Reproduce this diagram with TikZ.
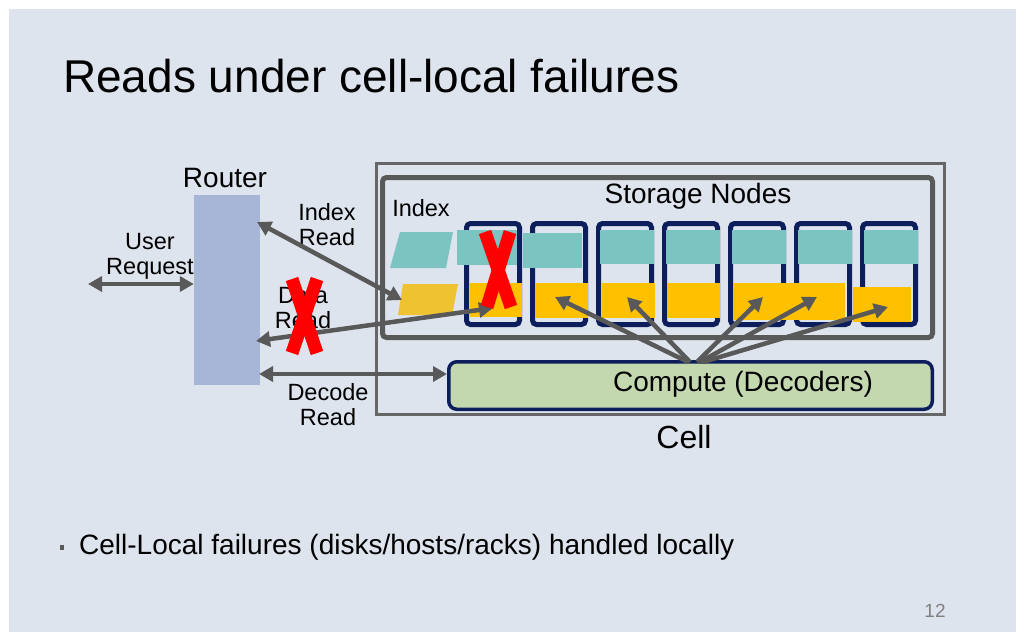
\documentclass[tikz,border=0pt]{standalone}
\usepackage{fontspec}
\setmainfont{Liberation Sans}
\usetikzlibrary{arrows.meta,positioning}
\definecolor{slide}{HTML}{DEE4EE}
\definecolor{arr}{HTML}{595959}
\definecolor{boxgray}{HTML}{666666}
\definecolor{navy}{HTML}{0C1F5C}
\definecolor{idxteal}{HTML}{7CC4C2}
\definecolor{gold}{HTML}{FFC000}
\definecolor{pgold}{HTML}{EFC232}
\definecolor{router}{HTML}{A7B5D6}
\definecolor{comp}{HTML}{C4D8B0}
\begin{document}
\begin{tikzpicture}[x=1pt, y=-1pt, >={Triangle[length=14pt,width=15pt]},
    flow/.style={arr, line width=4.5pt},
    lbl/.style={inner sep=0pt, align=center, font=\fontsize{23.5}{25.5}\selectfont},
    big/.style={inner sep=0pt, font=\fontsize{28}{32}\selectfont},
    disk/.style={draw=navy, line width=5pt, rounded corners=4pt, minimum width=53pt, minimum height=101pt, inner sep=0pt},
    cross/.style={red, line width=13pt}]
    % slide
    \fill[white] (0,0) rectangle (1024,640);
    \fill[slide] (9,9) rectangle (1016,632);
    \node[anchor=base west, inner sep=0pt, font=\fontsize{46}{50}\selectfont] (title) at (63,92) {Reads under cell-local failures};

    % router side
    \node[fill=router, minimum width=66pt, minimum height=190pt, inner sep=0pt] (router) at (227,290) {};
    \node[big, anchor=base] (rtr) at (225,187) {Router};
    \node[lbl, anchor=north] (user) at (150,233) {User\\Request};
    \node[lbl, anchor=north] (ixr) at (327,203) {Index\\Read};
    \node[lbl, anchor=north] (dtr) at (303,287) {Data\\Read};
    \node[lbl, anchor=north] (dcr) at (328,383) {Decode\\Read};

    % cell
    \node[draw=boxgray, line width=3pt, minimum width=568pt, minimum height=251pt, inner sep=0pt] (cell) at (660.5,289) {};
    \node[draw=arr, line width=5pt, rounded corners=4pt, minimum width=550pt, minimum height=160pt, inner sep=0pt] (store) at (657.5,257.5) {};
    \node[big, anchor=base] (stl) at (698,203) {Storage Nodes};
    \node[lbl, anchor=base] (idx) at (421,216) {Index};
    \node[inner sep=0pt, anchor=base, font=\fontsize{32}{36}\selectfont] (celll) at (684,448) {Cell};
    \node[draw=navy, fill=comp, line width=3.5pt, rounded corners=8pt, minimum width=483.5pt, minimum height=47.5pt, inner sep=0pt] (comp) at (690.5,385.5) {};
    \node[big, anchor=base] (compl) at (743,391) {Compute (Decoders)};

    % index pieces
    \fill[idxteal] (400,232) -- (453,232) -- (446,268) -- (390,268) -- cycle;
    \fill[pgold] (403,284) -- (458,284) -- (452,315) -- (398,315) -- cycle;

    % storage nodes
    \foreach \i in {1,...,7}
        \node[disk] (n\i) at ({493+66*(\i-1)},274) {};
    \fill[idxteal] (457,230) rectangle (517,265);
    \fill[idxteal] (523,233) rectangle (582,268);
    \foreach \i in {3,...,7}
        \fill[idxteal] ({468+66*(\i-1)},230) rectangle ({522+66*(\i-1)},264);
    \fill[gold] (470,283) rectangle (522,317);
    \fill[gold] (535,283) rectangle (588,318);
    \fill[gold] (602,283) rectangle (655,318);
    \fill[gold] (667,283) rectangle (720,318);
    \fill[gold] (733,283) rectangle (845,320);
    \fill[gold] (853,287) rectangle (911,322);

    % reads
    \coordinate (ur) at (88,284);
    \coordinate (ri) at (257,222);
    \coordinate (pi) at (402,300);
    \coordinate (rd) at (256,341);
    \coordinate (n1d) at (493,308);
    \coordinate (rc) at (259,374);
    \draw[flow, <->] (ur) -- (router.west |- ur);
    \draw[flow, <->] (ri) -- (pi);
    \draw[flow, <->] (rd) -- (n1d);
    \draw[flow, <->] (rc) -- (comp.west |- rc);

    % decoders fetch data
    \foreach \sx/\tx/\ty [count=\k] in {688/555/297, 690/627/297, 697/763/297, 700/817/297, 703/888/307} {
        \coordinate (t\k) at (\tx,\ty);
        \draw[flow, ->] (\sx,362) -- (t\k);
    }

    % failures
    \draw[cross] (292,279) -- (317,353);
    \draw[cross] (317,279) -- (292,353);
    \draw[cross] (485,232) -- (511,307);
    \draw[cross] (510,232) -- (487,307);

    % bullet
    \fill[arr] (60,545) rectangle (64,550);
    \node[anchor=base west, inner sep=0pt, font=\fontsize{28}{32}\selectfont] (note) at (79,554) {Cell-Local failures (disks/hosts/racks) handled locally};
    \node[anchor=base, inner sep=0pt, text=gray, font=\fontsize{19}{22}\selectfont] (pg) at (935,617) {12};
\end{tikzpicture}
\end{document}
